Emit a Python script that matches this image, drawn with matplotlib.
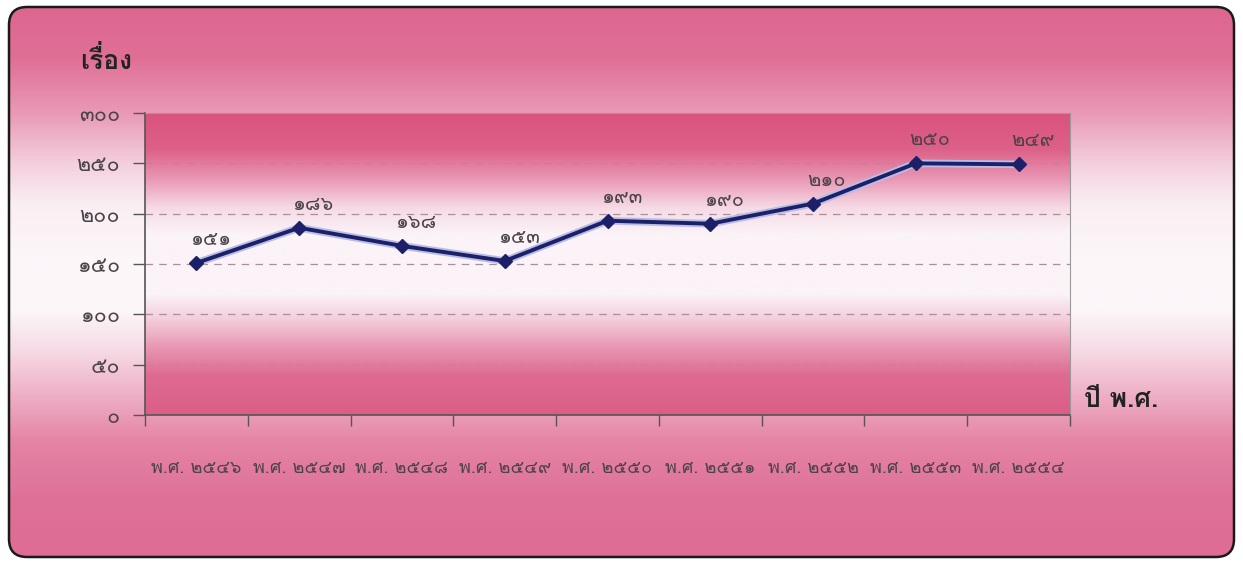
import numpy as np
import matplotlib
matplotlib.use("Agg")
import matplotlib.pyplot as plt
from matplotlib import font_manager as fm
from matplotlib.ft2font import FT2Font
from matplotlib.patches import FancyBboxPatch
from matplotlib.colors import LinearSegmentedColormap

# ---------------- data ----------------
years = ["พ.ศ. ๒๕๔๖", "พ.ศ. ๒๕๔๗", "พ.ศ. ๒๕๔๘", "พ.ศ. ๒๕๔๙", "พ.ศ. ๒๕๕๐",
         "พ.ศ. ๒๕๕๑", "พ.ศ. ๒๕๕๒", "พ.ศ. ๒๕๕๓", "พ.ศ. ๒๕๕๔"]
cases = [151, 186, 168, 153, 193, 190, 210, 250, 249]
y_ticks = [0, 50, 100, 150, 200, 250, 300]
y_title = "เรื่อง"
x_title = "ปี พ.ศ."

THAI = str.maketrans("0123456789", "๐๑๒๓๔๕๖๗๘๙")
def thai_num(v):
    return str(v).translate(THAI)

# ---------------- fonts ----------------
def find_thai_fonts():
    found = []
    for f in fm.fontManager.ttflist:
        try:
            ft = FT2Font(f.fname)
            if ft.get_char_index(ord("๑")) and ft.get_char_index(ord("เ")):
                if f.name not in found:
                    found.append(f.name)
        except Exception:
            pass
    return found

thai = find_thai_fonts()
family = thai[:1] + ["DejaVu Sans"]
plt.rcParams["font.family"] = family

W, H = 1243, 565
fig = plt.figure(figsize=(W / 100, H / 100), dpi=100)
fig.patch.set_facecolor("white")

# ---------------- outer background ----------------
bg = fig.add_axes([0, 0, 1, 1], zorder=0)
bg.set_xlim(0, W)
bg.set_ylim(H, 0)
bg.axis("off")
outer_stops = [(0.0, "#dd6590"), (0.10, "#e06f96"), (0.20, "#e99ab6"),
               (0.29, "#f4d0de"), (0.36, "#faeef3"), (0.45, "#fcf6f9"),
               (0.55, "#fcf6f9"), (0.62, "#f6dbe5"), (0.70, "#eeb0c6"),
               (0.78, "#e585a6"), (0.88, "#df7199"), (1.0, "#de6b93")]
cm_outer = LinearSegmentedColormap.from_list("outer", outer_stops)
grad = np.linspace(0, 1, 400).reshape(-1, 1)
im = bg.imshow(grad, cmap=cm_outer, aspect="auto", extent=[0, W, H, 0], zorder=0)
frame = FancyBboxPatch((9, 7), W - 18, H - 15, boxstyle="round,pad=0,rounding_size=18",
                       facecolor="none", edgecolor="#1a1a1a", linewidth=1.8, zorder=2)
bg.add_patch(frame)
im.set_clip_path(frame)

# ---------------- plot area ----------------
L, R, T, B = 145, 1070, 113, 415
ax = fig.add_axes([L / W, 1 - B / H, (R - L) / W, (B - T) / H], zorder=1)
inner_stops = [(0.0, "#d9537e"), (0.12, "#dd6189"), (0.22, "#e99ab6"),
               (0.31, "#f6d9e4"), (0.40, "#fbf3f7"), (0.60, "#fbf3f7"),
               (0.69, "#f3cad9"), (0.78, "#e796b2"), (0.87, "#df6b91"),
               (1.0, "#db5e87")]
cm_inner = LinearSegmentedColormap.from_list("inner", inner_stops)
ax.imshow(grad, cmap=cm_inner, aspect="auto", extent=[-0.5, 8.5, 0, 300],
          zorder=0, transform=ax.transData)

x = np.arange(len(cases))
ax.plot(x, cases, color="#b9bde6", linewidth=5.5, zorder=3, solid_capstyle="round")
ax.plot(x, cases, color="#1c2068", linewidth=2.8, marker="D", markersize=7.5,
        markerfacecolor="#1c2068", markeredgecolor="#1c2068", zorder=4)

for xi, v in zip(x, cases):
    ax.annotate(thai_num(v), (xi, v), xytext=(10, 10), textcoords="offset points",
                ha="center", va="bottom", fontsize=14.5, color="#4a4348", zorder=5)

ax.set_xlim(-0.5, 8.5)
ax.set_ylim(0, 300)
ax.set_yticks(y_ticks)
ax.set_yticklabels([thai_num(v) for v in y_ticks], fontsize=15.5, color="#4a4348")
ax.tick_params(axis="y", direction="out", length=9, width=1, color="#555555", pad=9)

ax.set_xticks(np.arange(-0.5, 9, 1.0))
ax.set_xticklabels([])
ax.tick_params(axis="x", which="major", direction="out", length=8, width=1,
               color="#555555")
ax.set_xticks(x, minor=True)
ax.set_xticklabels(years, minor=True, fontsize=13, color="#4a4348")
ax.tick_params(axis="x", which="minor", length=0, pad=32)

for gy in y_ticks[1:-1]:
    ax.axhline(gy, color="#a8909a", linewidth=0.9, linestyle=(0, (6, 5)), zorder=1)

ax.spines["left"].set_color("#555555")
ax.spines["bottom"].set_color("#555555")
ax.spines["left"].set_linewidth(1.2)
ax.spines["bottom"].set_linewidth(1.2)
ax.spines["top"].set_color("#9a9a9a")
ax.spines["right"].set_color("#9a9a9a")

fig.text(80 / W, 1 - 60 / H, y_title, fontsize=19, fontweight="bold",
         color="#222222", ha="left", va="center")
fig.text(1084 / W, 1 - 400 / H, x_title, fontsize=19, fontweight="bold",
         color="#222222", ha="left", va="center")

fig.savefig("out.png", dpi=100, facecolor="white")
